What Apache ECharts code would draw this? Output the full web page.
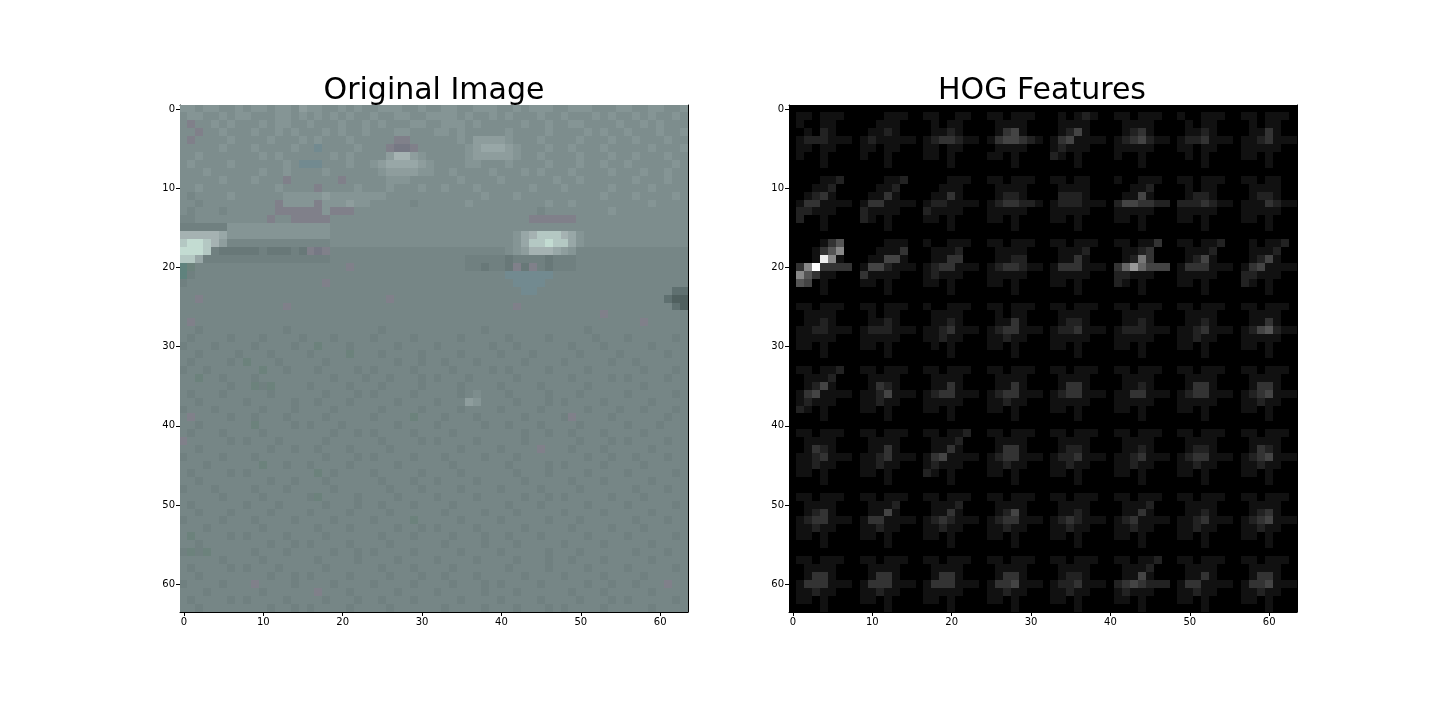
<!DOCTYPE html>
<html>
<head>
<meta charset="utf-8">
<script src="https://cdn.jsdelivr.net/npm/echarts@6/dist/echarts.min.js"></script>
<style>
  html, body { margin: 0; padding: 0; background: #fff; }
  #chart { width: 1440px; height: 720px; }
</style>
</head>
<body>
<div id="chart"></div>
<script>
// pixel grid of the original 64x64 crop, one char per pixel (key into ORIG_KEYS)
var ORIG_ROWS = [
  "66566556 56656657 66556565 56665565 56655666 55656665 56665556 65566556",
  "56655656 65556656 56565655 65566556 66656556 56555655 65556565 56565565",
  "5p556565 55656655 65556556 56555665 56665655 55565565 56655556 55656555",
  "55p55655 56556565 55656556 55566555 66565555 56555565 55565655 65556556",
  "5p555565 55565556 56555655 555pp555 55565777 76555655 55655565 56555655",
  "55555655 56555565 5r555565 55pmmp55 55556788 87655565 56555655 55565556",
  "55655555 55656555 55565655 55799765 55556777 77655655 55655565 56555655",
  "56555565 5555565r rr555655 67888876 55556655 56555565 55655655 65555565",
  "55565555 55655655 55655555 56777766 55655556 55565655 56555565 55655655",
  "55555655 56555p55 5555p555 55666555 55565555 65555556 55655555 56555655",
  "55655555 55556555 5p555565 55655565 56555655 55556555 65555565 55565555",
  "54555565 55555666 66766666 66555555 55555565 55655555 55555655 56555565",
  "55455555 5555p666 6p666766 55555455 55556555 55555565 56555555 55565555",
  "54555455 5555pppp pp6ppp55 55555555 55555555 55555455 55555565 55555555",
  "44555555 555p55pp ppp55555 55555555 55555555 5555pppp pp555555 55555555",
  "33333366 66666666 66655555 55555555 55555555 55555555 55555555 55555555",
  "99999866 66666666 66655555 55555555 55555555 55689aaa 98655555 55555555",
  "abba9744 44444444 44455555 55555555 55555555 5568aaba a8655555 55555555",
  "bbba3222 22322232 pmp44444 44444444 44444444 45679998 76444444 44444444",
  "aa833333 33333333 33344444 44444444 44443333 32333323 33444444 44444444",
  "sq444444 44444444 44444p44 44444444 44443323 32p2p323 33444444 44444444",
  "s3444444 44444444 44444444 44444444 44444444 4rrrrrr4 44444444 44444444",
  "34444444 44444444 44p44444 44444444 44444444 44rrrr44 44444444 44444444",
  "44444444 44444444 44444444 44444444 44444444 444rr444 44444444 44444411",
  "44p44444 44444444 44444444 44p44444 44444444 44444444 44444444 44444100",
  "44444444 44444p44 44444444 44444444 44444444 44p44444 44444444 44444410",
  "44444444 44444444 44444444 44444444 44444444 44444444 44444p44 44444444",
  "4p444444 44444444 44444444 44444444 44444444 44444444 44444444 44p44444",
  "44344444 44444344 44444444 43444444 44444434 44444444 44434444 44444444",
  "43444434 44344443 44434444 34444344 44434444 43444434 44443444 34444434",
  "34443444 43444434 4q444344 44434444 34444443 44344444 43444344 44434444",
  "44344443 44434444 34444q44 43444434 44434444 34443444 44344443 44444344",
  "43444434 q4443444 44344444 44434434 43444344 44434444 34444434 43444444",
  "34434444 44q44344 43444434 34444344 44344443 43444434 44434444 44344434",
  "44q44344 43444444 44434443 44344434 34443444 44344444 43444434 34444344",
  "44444434 4q3q4444 34444344 43444434 44434444 34444344 44434444 44344444",
  "43444344 44434444 44344434 34444344 44434544 43444434 44344444 34444434",
  "44344444 34444434 43444344 44434444 34447644 44344434 34444344 44434444",
  "34443444 44344434 44434444 43444434 44434444 34444344 44434443 44344434",
  "4p444434 43444344 44344444 34444q44 43444344 44434444 3p444434 44444344",
  "44344444 4q444434 34443444 44434444 34444434 43444344 44344444 34443444",
  "43444344 44344444 44434434 34444344 44344444 44434434 43444344 44344444",
  "p4444434 34443444 44344444 43444434 34444344 44434444 44344434 34444344",
  "44344444 44434434 43444344 44344444 44434444 34444p44 43444344 44434444",
  "34444344 43444444 44344434 34444344 43444434 44344444 44434434 43444344",
  "44434444 44q44344 34444344 44434444 44344444 43444434 34444344 44344444",
  "43444434 34444444 4q434444 34444434 44434444 44344434 44434444 34444434",
  "44344444 44434434 44344444 43444344 34444344 44434444 43444344 44434444",
  "34443444 43444344 44434444 44344434 44434444 34444344 44344444 43444344",
  "44444344 44344444 3q444434 44434444 34444344 44434434 34444434 44344444",
  "43444444 34443444 44344434 43444344 44344444 43444344 44434444 34444434",
  "44344434 44434444 34444344 44344444 43444434 44344444 34444344 44434444",
  "34444344 43444434 44434444 34444q44 44434444 34444434 44344444 43444344",
  "44434444 44344444 43444344 44434434 34444344 44434444 43444434 44344444",
  "4q444434 34444344 44344444 43444344 44344434 43444344 44434444 34444434",
  "44344444 44434434 34444344 44344444 43444434 44344444 34444344 44434444",
  "3q3q4444 43444344 44434434 34444344 44434444 34444434 44344444 43444344",
  "44444344 44344444 43444434 44434444 34444344 44344434 43444344 44434444",
  "43444434 34443444 44344444 43444344 44344444 43444434 44434444 34444434",
  "44344444 44434434 34444344 44344434 43444344 44434444 34444344 44344444",
  "34444344 4p444434 44434444 34444344 44344434 34444344 44434434 43444p44",
  "44434444 44344444 4p444344 44434444 34444434 44344444 43444344 44434444",
  "43444434 34444344 44344434 43444344 44434444 34444344 44344434 34444434",
  "44344444 44434434 34444344 44344444 43444434 44344434 34444344 44434444"
];
var ORIG_KEYS = "0123456789abpqrms";
var ORIG_COLORS = [
  "#50605f", "#5f7070", "#687878", "#708080", "#768686", "#7d8d8d",
  "#859595", "#8e9d9d", "#98a7a7", "#a5b2b2", "#b4c8c3", "#c3dcd2",
  "#80808a", "#6c827c", "#728a90", "#767884", "#5f827d"
];

// HOG visualisation, grey level 0 (black) .. f (white), one hex digit per pixel
var HOG_ROWS = [
  "00000000 00000000 00000000 00000000 00000000 00000000 00000000 00000000",
  "01101110 00001110 01100110 01101110 00101210 01101110 01001110 01101110",
  "01001100 00011100 00101100 00111100 00111100 00111100 00101100 00101100",
  "00102100 00112100 00112100 00134100 00124100 00123100 00112100 00113100",
  "01222111 01211111 01233211 01344321 01341111 01234211 01223111 01123111",
  "01101100 01101100 01101100 00111100 01211100 01111100 01101100 01111100",
  "01001000 01001000 01101000 01101000 02101000 01001000 00101000 01101000",
  "00001000 00001000 00001000 00001000 00001000 00001000 00001000 00001000",

  "00000000 00000000 00000000 00000000 00000000 00000000 00000000 00000000",
  "00001120 00001120 00001110 01101110 01101100 01001110 01101110 01101100",
  "00011200 00011200 00011100 00111100 00111100 00011200 00101100 00111100",
  "00123100 00113100 00113100 00122100 00222100 00114100 00122100 00122100",
  "01331111 01331111 01221111 01233221 01222111 02443322 02223211 01113211",
  "02211100 02111100 02111100 01111100 01111100 01111100 01111100 01111100",
  "02001000 02101000 01101000 01101000 01101000 01101000 01101000 01101000",
  "00001000 00001000 00001000 00001000 00001000 00001000 00001000 00001000",

  "00000000 00000000 00000000 00000000 00000000 00000000 00000000 00000000",
  "00001350 00001110 01001110 01101110 01101110 01101130 01101120 00101120",
  "00013580 00011130 00111200 00111100 00111200 00112300 00111200 00111200",
  "0001e810 00114410 00113300 00112200 00113100 00127300 00124100 00124100",
  "038f3333 01442111 01233111 01233211 01333111 03696444 01333111 01341111",
  "08531100 03111100 01211100 01111100 01111100 02211100 01111100 02211100",
  "05401000 01101000 01101000 01101000 01101000 02101000 01101000 02101000",
  "00001000 00001000 00001000 00001000 00001000 00001000 00001000 00001000",

  "00000000 00000000 00000000 00000000 00000000 00000000 00000000 00000000",
  "01101110 01101110 01001110 01101110 01101110 01101110 01101110 01101110",
  "00111100 00101100 00111100 00101100 00111100 00111100 00111100 00111100",
  "00112100 00112100 00112100 00113100 00122100 00112100 00112100 00113100",
  "01122111 01222111 01123111 01233111 01223111 01222111 01123111 01245211",
  "01111100 01111100 01121100 01121100 01111100 01111100 01121100 01111100",
  "01101000 01101000 00101000 01101000 01101000 01101000 01101000 01101000",
  "00001000 00001000 00001000 00001000 00001000 00001000 00001000 00001000",

  "00000000 00000000 00000000 00000000 00000000 00000000 00000000 00000000",
  "01101120 01101110 01101110 01101110 01101110 01101110 01101110 01101110",
  "00111200 00111100 00111100 00111100 00111100 00111100 00111100 00111100",
  "00124100 00132100 00113100 00113100 00133100 00112100 00133100 00133100",
  "01341111 01124111 01233111 01233111 01233111 01133111 01233111 01234111",
  "01211100 01121100 01111100 01121100 01111100 01111100 01111100 01121100",
  "02101000 01101000 01101000 01101000 01101000 01101000 01101000 01101000",
  "00001000 00001000 00001000 00001000 00001000 00001000 00001000 00001000",

  "00000000 00000000 00000000 00000000 00000000 00000000 00000000 00000000",
  "01101110 01101110 01101120 01101110 01101110 01101110 01101110 01101110",
  "00111100 00111100 00111200 00111100 00111100 00111100 00111100 00111100",
  "00132100 00113100 00113100 00133100 00122100 00112100 00122100 00132100",
  "01123111 01123111 01341111 01233111 01223111 01123111 01233111 01234111",
  "01121100 01121100 01211100 01121100 01121100 01121100 01121100 01121100",
  "01101000 01101000 02101000 01101000 01101000 01101000 01101000 01101000",
  "00001000 00001000 00001000 00001000 00001000 00001000 00001000 00001000",

  "00000000 00000000 00000000 00000000 00000000 00000000 00000000 00000000",
  "01101110 01101110 01101110 01101110 01101110 01101110 01101110 01101110",
  "00111100 00111200 00111200 00111100 00111100 00111200 00111100 00111100",
  "00123100 00114100 00113100 00124100 00112100 00113100 00112100 00123100",
  "01233111 01331111 01232111 01233111 01232111 01231111 01123111 01234111",
  "01121100 01121100 01121100 01121100 01121100 01121100 01121100 01121100",
  "01101000 01101000 01101000 01101000 01101000 01101000 01101000 01101000",
  "00001000 00001000 00001000 00001000 00001000 00001000 00001000 00001000",

  "00000000 00000000 00000000 00000000 00000000 00000000 00000000 00000000",
  "01101110 01101110 01101110 01101110 01101110 01101120 01101110 01101110",
  "00111100 00111100 00111100 00111100 00111100 00111200 00111100 00111100",
  "00133100 00133100 00133100 00133100 00122100 00114100 00113100 00133100",
  "01333111 01333111 01333111 01334111 01223111 02343222 01331111 01334111",
  "01121100 01121100 01111100 01121100 01121100 01211100 01121100 01121100",
  "01101000 01101000 01101000 01101000 01101000 01101000 01101000 01101000",
  "00001000 00001000 00001000 00001000 00001000 00001000 00001000 00001000"
];

var TITLES = ["Original Image", "HOG Features"];
var TICK_STEP = 10;

// 0..63 pixel indices as axis categories
var PIXELS = [];
for (var i = 0; i < 64; i++) PIXELS.push(String(i));

var toCells = function (rows, keys) {
  var out = [];
  rows.forEach(function (row, y) {
    var line = row.replace(/\s+/g, "");
    for (var x = 0; x < line.length; x++) {
      out.push([x, y, keys.indexOf(line.charAt(x))]);
    }
  });
  return out;
};

var origData = toCells(ORIG_ROWS, ORIG_KEYS);
var hogData = toCells(HOG_ROWS, "0123456789abcdef");

var showTick = function (idx) { return idx % TICK_STEP === 0; };
var font = "DejaVu Sans";

// one pixel = one band of each category axis; snap to whole pixels so no seams show
var renderPixel = function (params, api) {
  var c = api.coord([api.value(0), api.value(1)]);
  var s = api.size([1, 1]);
  var x0 = Math.floor(c[0] - s[0] / 2), y0 = Math.floor(c[1] - s[1] / 2);
  var x1 = Math.ceil(c[0] + s[0] / 2), y1 = Math.ceil(c[1] + s[1] / 2);
  return {
    type: "rect",
    shape: { x: x0, y: y0, width: x1 - x0, height: y1 - y0 },
    style: { fill: api.visual("color") }
  };
};

var makeX = function (g, pos) {
  var main = pos === "bottom";
  return {
    type: "category", gridIndex: g, data: PIXELS, position: pos, boundaryGap: true,
    axisLine: { show: true, onZero: false, lineStyle: { color: "#000", width: 1 } },
    axisTick: { show: main, alignWithLabel: true, interval: showTick, length: 4, lineStyle: { color: "#000" } },
    axisLabel: { show: main, interval: showTick, color: "#000", fontSize: 10, fontFamily: font, margin: 5 },
    splitLine: { show: false }
  };
};
var makeY = function (g, pos) {
  var main = pos === "left";
  return {
    type: "category", gridIndex: g, data: PIXELS, position: pos, inverse: true, boundaryGap: true,
    axisLine: { show: true, onZero: false, lineStyle: { color: "#000", width: 1 } },
    axisTick: { show: main, alignWithLabel: true, interval: showTick, length: 4, lineStyle: { color: "#000" } },
    axisLabel: { show: main, interval: showTick, color: "#000", fontSize: 10, fontFamily: font, margin: 5 },
    splitLine: { show: false }
  };
};

var chart = echarts.init(document.getElementById("chart"), null, { renderer: "canvas" });
var option = {
  backgroundColor: "#fff",
  animation: false,
  title: [
    { text: TITLES[0], left: 429, top: 71, textAlign: "center",
      textStyle: { fontSize: 30, fontWeight: "normal", color: "#000", fontFamily: font } },
    { text: TITLES[1], left: 1037, top: 71, textAlign: "center",
      textStyle: { fontSize: 30, fontWeight: "normal", color: "#000", fontFamily: font } }
  ],
  grid: [
    { left: 180, top: 105, width: 508, height: 507 },
    { left: 789, top: 105, width: 508, height: 507 }
  ],
  xAxis: [makeX(0, "bottom"), makeX(0, "top"), makeX(1, "bottom"), makeX(1, "top")],
  yAxis: [makeY(0, "left"), makeY(0, "right"), makeY(1, "left"), makeY(1, "right")],
  visualMap: [
    { type: "piecewise", show: false, seriesIndex: 0, dimension: 2,
      pieces: ORIG_COLORS.map(function (c, k) { return { value: k, color: c }; }) },
    { type: "continuous", show: false, seriesIndex: 1, dimension: 2, min: 0, max: 15,
      inRange: { color: ["#000000", "#ffffff"] } }
  ],
  series: [
    { type: "custom", xAxisIndex: 0, yAxisIndex: 0, data: origData, encode: { x: 0, y: 1 },
      renderItem: renderPixel, clip: true, silent: true, progressive: 0 },
    { type: "custom", xAxisIndex: 2, yAxisIndex: 2, data: hogData, encode: { x: 0, y: 1 },
      renderItem: renderPixel, clip: true, silent: true, progressive: 0 }
  ]
};
chart.setOption(option);
</script>
</body>
</html>
